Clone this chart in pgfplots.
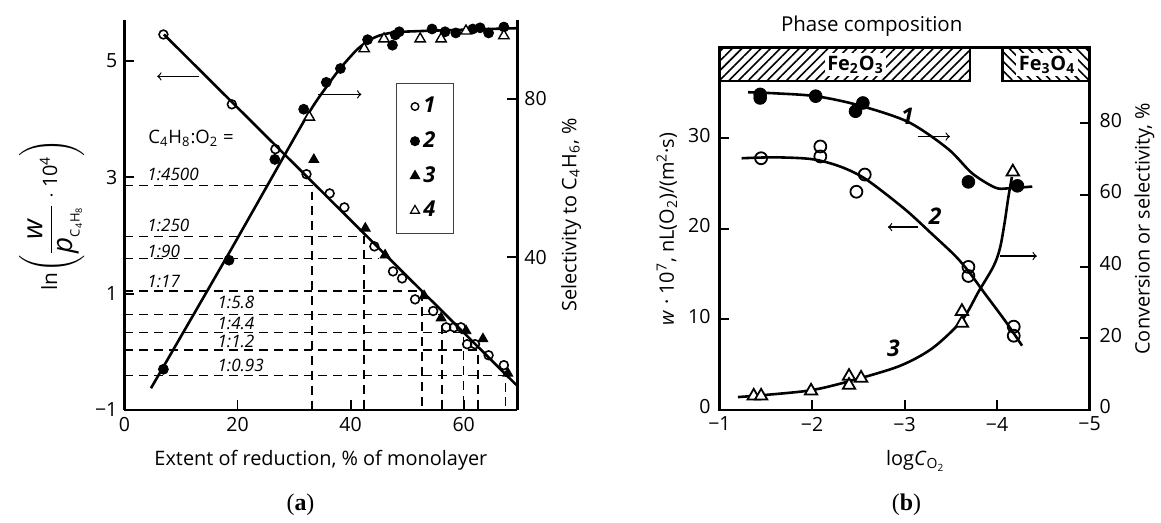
\documentclass[border=0pt]{standalone}
\usepackage{pgfplots}
\pgfplotsset{compat=1.18}
\usepackage{amsmath}
\usepackage{fontspec}
\setmainfont{Open Sans}
\newfontfamily\capfont{Liberation Serif}
\usetikzlibrary{patterns.meta}

\pgfplotsset{
  base/.style={scale only axis, clip=false, tick align=inside,
    axis line style={line width=1.3pt},
    major tick style={line width=1pt, black}, major tick length=5pt,
    tick label style={font=\fontsize{9.8}{12}\selectfont},
    label style={font=\fontsize{10.3}{13}\selectfont}},
  guide/.style={black, line width=0.75pt, dash pattern=on 4.5pt off 3pt},
  fit/.style={black, line width=1.3pt},
}

\begin{document}
\begin{tikzpicture}
\path (0,0) rectangle (580.5pt,262.5pt);

% ---------------- (a) left scale: ln(w/p)
\begin{axis}[base, at={(62.5pt,56.5pt)}, anchor=south west,
  width=197.5pt, height=196pt,
  xmin=0, xmax=69.5, ymin=-1, ymax=5.7,
  axis x line*=bottom, axis y line*=left, tick align=inside,
  xtick={0,20,40,60}, xticklabels={0,20,40,60},
  ytick={-1,1,3,5}, yticklabels={−1,1,3,5},
  xlabel={Extent of reduction, \% of monolayer},
  every axis x label/.style={at={(axis description cs:0.5,-0.13)}, anchor=center},
  ylabel={\fontsize{10.5}{12}\selectfont ln$\Biggl(\dfrac{\text{\fontsize{14}{16}\selectfont\itshape w}}{\text{\fontsize{14}{16}\selectfont\itshape p}_{\text{\fontsize{6.5}{7}\selectfont C\textsubscript{4}H\textsubscript{8}}}}\cdot\text{\fontsize{10}{12}\selectfont 10\textsuperscript{4}}\Biggr)$},
  every axis y label/.style={at={(axis description cs:-0.185,0.5)}, rotate=90, anchor=center},
]
\addplot[guide] coordinates {(0,2.86) (33.2,2.86) (33.2,-1)};
\addplot[guide] coordinates {(0,1.98) (42.4,1.98) (42.4,-1)};
\addplot[guide] coordinates {(0,1.60) (45.0,1.60)};
\addplot[guide] coordinates {(0,1.04) (52.6,1.04) (52.6,-1)};
\addplot[guide] coordinates {(0,0.64) (56.2,0.64) (56.2,-1)};
\addplot[guide] coordinates {(0,0.33) (60.0,0.33) (60.0,-1)};
\addplot[guide] coordinates {(0,0.03) (62.5,0.03) (62.5,-1)};
\addplot[guide] coordinates {(0,-0.41) (67.4,-0.41) (67.4,-1)};

\addplot[fit] coordinates {(7,5.45) (69.3,-0.57)};

\addplot[only marks, mark=o, mark size=2.2pt, mark options={fill=white, line width=0.8pt}] coordinates {
 (6.9,5.45) (19,4.25) (26.7,3.48) (32.2,3.05) (36.3,2.72) (38.9,2.48) (44.2,1.81)
 (47.5,1.38) (49.1,1.26) (51.4,0.90) (54.6,0.70) (56.9,0.42) (58.3,0.42) (59.5,0.42)
 (60.6,0.13) (62,0.13) (64.4,-0.06) (67.1,-0.23)};
\addplot[only marks, mark=triangle*, mark size=2.9pt, mark options={fill=black}] coordinates {
 (33.5,3.3) (42.6,2.12) (46.1,1.66) (53,0.96) (56,0.58) (60.4,0.36) (63.4,0.22) (67.8,-0.37)};

\node[anchor=west, font=\fontsize{9.3}{11}\selectfont] at (axis cs:3,3.67) {C\textsubscript{4}H\textsubscript{8}:O\textsubscript{2} =};
\begin{scope}[every node/.style={anchor=west, font=\fontsize{8.6}{10}\itshape\selectfont, inner sep=0pt}]
\node at (axis cs:4,3.05) {1:4500};
\node at (axis cs:4,2.17) {1:250};
\node at (axis cs:4,1.73) {1:90};
\node at (axis cs:4,1.20) {1:17};
\node at (axis cs:16.4,0.84) {1:5.8};
\node at (axis cs:16.4,0.48) {1:4.4};
\node at (axis cs:16.4,0.18) {1:1.2};
\node at (axis cs:16.4,-0.23) {1:0.93};
\end{scope}
\draw[->, line width=0.6pt] (axis cs:13.2,4.73) -- (axis cs:5.8,4.73);
\draw[->, line width=0.6pt] (axis cs:34.3,4.42) -- (axis cs:41.9,4.42);
\end{axis}

% ---------------- (a) right scale: selectivity
\begin{axis}[base, at={(62.5pt,56.5pt)}, anchor=south west,
  width=197.5pt, height=196pt,
  xmin=0, xmax=69.5, ymin=1.3, ymax=100,
  axis y line*=right, axis x line=none, tick align=inside,
  ytick={40,80}, yticklabels={40,80},
  ylabel={Selectivity to C\textsubscript{4}H\textsubscript{6}, \%},
  every axis y label/.style={at={(axis description cs:1.137,0.5)}, rotate=90, anchor=center},
  legend style={at={(0.691,0.839)}, anchor=north west, draw=black!75, line width=0.6pt,
    font=\fontsize{11}{12}\bfseries\itshape\selectfont, row sep=4pt,
    inner xsep=7pt, inner ysep=5pt, cells={anchor=west}},
]
\addplot[fit, smooth, tension=0.4, forget plot] coordinates {
 (4.7,6.8) (18.5,41) (32,75) (35.7,83) (38.2,87.8) (41,92.3) (43,94.6) (45,96) (48,96.9)
 (55,97.3) (62,97.6) (69.5,97.9)};
\addplot[only marks, mark=*, mark size=2.5pt, forget plot] coordinates {
 (6.9,11.6) (18.5,39.2) (26.6,64.7) (31.7,77.4) (35.7,84.2) (38.2,87.7) (43,95)
 (47.4,93.6) (47.9,96.2) (48.6,97) (54.4,97.7) (56.7,97) (58.6,96.7) (61.6,97.7)
 (62.9,98) (64.4,96.7) (67.1,98.2)};
\addplot[only marks, mark=triangle*, mark size=3pt, mark options={fill=white, line width=0.7pt}, forget plot] coordinates {
 (32.7,75.4) (42.4,92.7) (45.9,95.2) (52.3,95.2) (56,95.2) (60.4,97.2) (67.1,96)};

\addlegendimage{only marks, mark=o, mark size=1.9pt, mark options={line width=0.7pt}}
\addlegendentry{1}
\addlegendimage{only marks, mark=*, mark size=2.2pt}
\addlegendentry{2}
\addlegendimage{only marks, mark=triangle*, mark size=2.6pt}
\addlegendentry{3}
\addlegendimage{only marks, mark=triangle*, mark size=2.6pt, mark options={fill=white, line width=0.6pt}}
\addlegendentry{4}
\end{axis}

% ---------------- (b) left scale: rate
\begin{axis}[base, at={(361.5pt,56.5pt)}, anchor=south west,
  width=186pt, height=182pt,
  xmin=-5, xmax=-1, x dir=reverse, ymin=0, ymax=40,
  xtick pos=left, ytick pos=left,
  xtick={-1,-2,-3,-4,-5}, xticklabels={−1,−2,−3,−4,−5},
  ytick={0,10,20,30}, yticklabels={0,10,20,30},
  yticklabel style={xshift=-1pt, yshift=1.5pt},
  xlabel={log\textit{C}\textsubscript{O\textsubscript{2}}},
  every axis x label/.style={at={(axis description cs:0.53,-0.14)}, anchor=center},
  ylabel={\textit{w} · 10\textsuperscript{7}, nL(O\textsubscript{2})/(m\textsuperscript{2}·s)},
  every axis y label/.style={at={(axis description cs:-0.142,0.5)}, rotate=90, anchor=center},
]
\fill[pattern={Lines[angle=45, distance=3.4pt, line width=0.8pt]}] (axis cs:-1,36.3) rectangle (axis cs:-3.71,40);
\draw[line width=1.2pt] (axis cs:-1,36.3) -- (axis cs:-3.71,36.3) -- (axis cs:-3.71,40);
\fill[pattern={Lines[angle=-45, distance=3.4pt, line width=0.8pt]}] (axis cs:-4.06,36.3) rectangle (axis cs:-5,40);
\draw[line width=1.2pt] (axis cs:-4.06,40) -- (axis cs:-4.06,36.3) -- (axis cs:-5,36.3);
\node[fill=white, inner sep=1.2pt, font=\bfseries\fontsize{10}{12}\selectfont] at (axis cs:-2.47,38.15) {Fe\textsubscript{2}O\textsubscript{3}};
\node[fill=white, inner sep=1.2pt, font=\bfseries\fontsize{10}{12}\selectfont] at (axis cs:-4.54,38.15) {Fe\textsubscript{3}O\textsubscript{4}};

\addplot[fit, smooth, tension=0.5] coordinates {
 (-1.24,27.8) (-1.6,27.9) (-2.0,27.7) (-2.3,26.9) (-2.58,25.5) (-3.0,22.2) (-3.3,19.4)
 (-3.55,17.0) (-3.7,15.2) (-3.85,13.1) (-4.09,9.8) (-4.27,7.1)};
\addplot[only marks, mark=o, mark size=3pt, mark options={fill=white, line width=0.9pt}] coordinates {
 (-1.45,27.8) (-2.09,29.1) (-2.09,28.0) (-2.48,24.1) (-2.57,26.0) (-3.69,15.8) (-3.69,14.8)
 (-4.18,9.2) (-4.18,8.2)};

\begin{scope}[every node/.style={font=\bfseries\itshape\fontsize{11.5}{13}\selectfont}]
\node at (axis cs:-3.03,32.4) {1};
\node at (axis cs:-3.33,21.4) {2};
\node at (axis cs:-2.88,6.8) {3};
\end{scope}
\draw[->, line width=0.6pt] (axis cs:-3.14,30.2) -- (axis cs:-3.49,30.2);
\draw[->, line width=0.6pt] (axis cs:-3.15,20.2) -- (axis cs:-2.82,20.2);
\draw[->, line width=0.6pt] (axis cs:-4.03,17.0) -- (axis cs:-4.43,17.0);
\end{axis}

% ---------------- (b) right scale: conversion / selectivity
\begin{axis}[base, at={(361.5pt,56.5pt)}, anchor=south west,
  width=186pt, height=182pt,
  xmin=-5, xmax=-1, x dir=reverse, ymin=0, ymax=101,
  axis y line*=right, axis x line=none, tick align=inside,
  ytick={0,20,40,60,80}, yticklabels={0,20,40,60,80},
  yticklabel style={xshift=1.5pt, yshift=1.5pt},
  ylabel={Conversion or selectivity, \%},
  every axis y label/.style={at={(axis description cs:1.148,0.5)}, rotate=90, anchor=center},
]
\addplot[fit, smooth, tension=0.5] coordinates {
 (-1.31,88.6) (-1.6,88.3) (-2.04,87.5) (-2.5,85) (-3.04,80.3) (-3.47,72.8) (-3.73,66)
 (-3.98,62) (-4.12,61.8) (-4.38,62.3)};
\addplot[fit, smooth, tension=0.5] coordinates {
 (-1.2,3.6) (-1.5,4.2) (-1.99,5.5) (-2.4,8) (-2.94,12.2) (-3.3,17.2) (-3.62,25) (-3.80,33)
 (-3.96,40) (-4.03,45) (-4.08,52) (-4.12,59) (-4.16,65)};
\addplot[only marks, mark=*, mark size=3.2pt] coordinates {
 (-1.44,88) (-1.44,87) (-2.04,87.5) (-2.47,83.3) (-2.55,85.6) (-3.69,63.6) (-4.22,62.5)};
\addplot[only marks, mark=triangle*, mark size=3.6pt, mark options={fill=white, line width=0.9pt}] coordinates {
 (-1.37,3.9) (-1.45,3.9) (-1.99,5.3) (-2.40,9.4) (-2.40,6.9) (-2.53,8.9) (-3.62,27.5)
 (-3.62,24.2) (-4.17,66.4)};
\end{axis}

\node[font=\fontsize{10.3}{13}\selectfont] at (438pt,249.5pt) {Phase composition};
\node[font=\capfont\fontsize{12}{14}\selectfont] at (151pt,9pt) {(\textbf{a})};
\node[font=\capfont\fontsize{12}{14}\selectfont] at (455.5pt,9pt) {(\textbf{b})};
\end{tikzpicture}
\end{document}
